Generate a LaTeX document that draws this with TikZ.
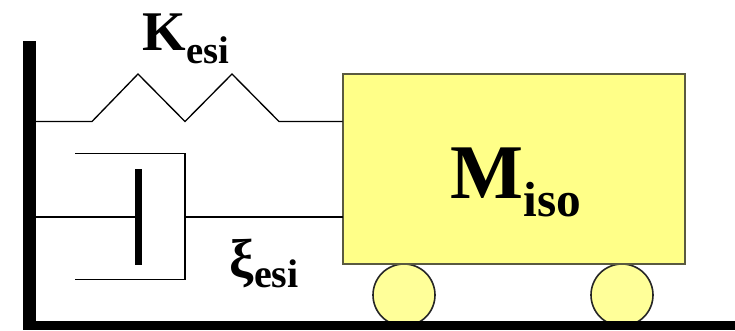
\documentclass[tikz,border=0pt]{standalone}
\usepackage{fontspec}
\setmainfont{Liberation Serif}
\usepackage{tikz}
\definecolor{massyellow}{HTML}{FFFF88}
\definecolor{wheelyellow}{HTML}{FFFF99}
\definecolor{massedge}{HTML}{5A5A40}

\begin{document}
\begin{tikzpicture}[x=0.75pt,y=-0.75pt,line width=1pt,
                    block node/.style={rectangle,draw=none,fill=black,inner sep=0pt,outer sep=0pt},
                    mass node/.style={rectangle,draw=massedge,line width=1.4pt,fill=massyellow,inner sep=0pt,outer sep=0pt,minimum width=257pt,minimum height=142pt},
                    wheel node/.style={circle,draw=black!85,line width=1.2pt,fill=wheelyellow,inner sep=0pt,outer sep=0pt,minimum size=46.5pt},
                    label node/.style={anchor=base west,inner sep=0pt,font=\bfseries}]

  \useasboundingbox (0,0) rectangle (735,330);

  \node[wheel node] (wheel1) at (404,295) {};
  \node[wheel node] (wheel2) at (622,295) {};

  \node[block node,minimum width=9.75pt,minimum height=215pt,anchor=north west] (wall) at (23,41) {};
  \node[block node,minimum width=534pt,minimum height=6.75pt,anchor=south west] (floor) at (23,330) {};
  \node[mass node] (mass) at (514,169) {};

  \node[label node] (mlabel) at (450,198) {\fontsize{58}{58}\selectfont M\raisebox{-14pt}{\fontsize{37}{37}\selectfont iso}};
  \node[label node] (klabel) at (142,50) {\fontsize{42}{42}\selectfont K\raisebox{-10pt}{\fontsize{29}{29}\selectfont esi}};
  \node[label node] (xilabel) at (229,277) {\fontsize{41}{41}\selectfont ξ\raisebox{-8pt}{\fontsize{30}{30}\selectfont esi}};

  % spring
  \coordinate (s0) at (wall.east |- 0,121.5);
  \coordinate (s1) at (92,121.5);
  \coordinate (s2) at (138,74);
  \coordinate (s3) at (185,121.5);
  \coordinate (s4) at (232,74);
  \coordinate (s5) at (279,121.5);
  \coordinate (s6) at (mass.west |- 0,121.5);
  \draw (s0) -- (s1) -- (s2) -- (s3) -- (s4) -- (s5) -- (s6);

  % damper
  \node[block node,minimum width=5.25pt,minimum height=71.5pt] (piston) at (138.5,217) {};
  \coordinate (d0) at (wall.east |- 0,217);
  \coordinate (d1) at (75,153.5);
  \coordinate (d2) at (185,153.5);
  \coordinate (d3) at (185,279.5);
  \coordinate (d4) at (75,279.5);
  \coordinate (d5) at (185,217);
  \coordinate (d6) at (mass.west |- 0,217);
  \draw (d0) -- (piston.west);
  \draw (d1) -- (d2) -- (d3) -- (d4);
  \draw (d5) -- (d6);
\end{tikzpicture}
\end{document}
